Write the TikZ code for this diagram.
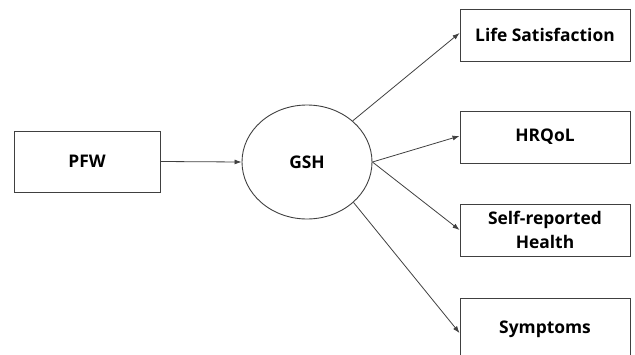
\documentclass[tikz,border=0pt]{standalone}
\usepackage{fontspec}
\setmainfont{Open Sans}
\usetikzlibrary{arrows.meta,shapes.geometric}
\begin{document}
\begin{tikzpicture}[x=1pt,y=-1pt,
  font=\fontsize{17.4}{24}\selectfont\bfseries,
  box/.style={draw=black!75,line width=0.9pt,inner sep=0pt,align=center,text=black},
  latent/.style={draw=black!75,line width=0.9pt,ellipse,inner sep=0pt,
    minimum width=130pt,minimum height=114pt,text=black},
  link/.style={draw=black!75,line width=0.8pt,-{Latex[length=7pt,width=5pt]}}]
\useasboundingbox (0,0) rectangle (635,354);
\begin{scope}
\clip (0,0) rectangle (635,354);
\node[box,minimum width=146pt,minimum height=61pt] (pfw) at (87,161.5) {PFW};
\node[latent] (gsh) at (307,162) {GSH};
\node[box,minimum width=170pt,minimum height=52pt] (life) at (545,35) {Life Satisfaction};
\node[box,minimum width=170pt,minimum height=52pt] (hrq) at (545,137) {HRQoL};
\node[box,minimum width=170pt,minimum height=52pt] (self) at (545,230) {Self-reported\\Health};
\node[box,minimum width=170pt,minimum height=62pt] (sym) at (545,329) {Symptoms};
\end{scope}
\draw[link] (pfw.east) -- (gsh.west);
\draw[link] (gsh.42) -- ([yshift=2pt]life.west);
\draw[link] (gsh.east) -- ([yshift=1pt]hrq.west);
\draw[link] (gsh.east) -- (self.west);
\draw[link] (gsh.-41) -- ([yshift=-4pt]sym.west);
\end{tikzpicture}
\end{document}
